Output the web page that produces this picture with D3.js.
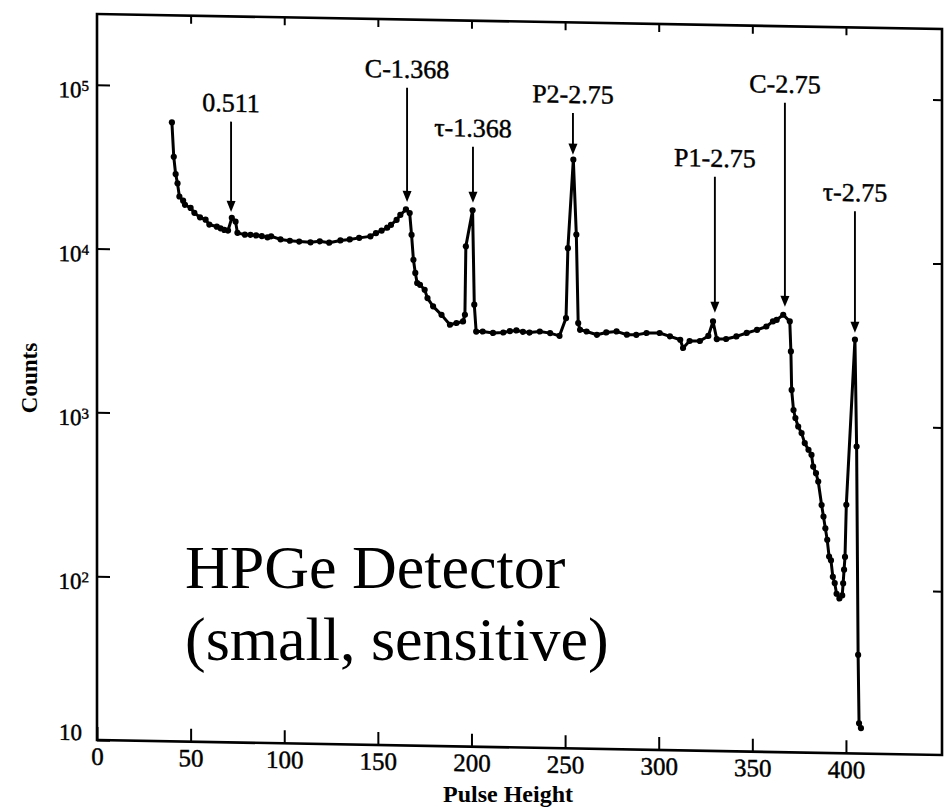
<!DOCTYPE html>
<html>
<head>
<meta charset="utf-8">
<script src="https://cdn.jsdelivr.net/npm/d3@7"></script>
<style>
  html, body { margin: 0; padding: 0; background: #fff; }
  svg { display: block; }
</style>
</head>
<body>
<div id="chart"></div>
<script>
// spectrum points
const pulseHeights = [
  40, 41, 42, 43, 44, 46, 47, 50, 52, 55,
  58, 60, 64, 66, 68, 70, 72, 74, 75, 79,
  82, 85, 88, 91, 93, 98, 103, 108, 114, 119,
  124, 130, 135, 140, 146, 149, 152, 155, 157, 160,
  162, 165, 167, 168, 169, 170, 171, 172.5, 175, 176.5,
  179.5, 184, 188.5, 192, 195.5, 196.5, 197, 200.6, 201.5, 202.5,
  206, 211.5, 217, 220.5, 224, 227.5, 231, 236.5, 242, 247,
  250.5, 251.5, 254.4, 256, 257, 258, 261.5, 267, 272, 277.5,
  283, 288, 293.5, 300.5, 306, 311.5, 313, 316.5, 322, 326.5,
  329, 331, 336, 341.5, 347, 352.5, 357.5, 361, 363, 366.5,
  370, 370.6, 371, 372, 373, 374.5, 376.3, 378, 380, 381.6,
  382.5, 384, 385.2, 387, 388, 389, 390, 391, 392, 393,
  394, 395, 396.5, 398, 398.5, 399, 399.5, 400.2, 404.8, 405.7,
  406.5, 407, 408,
];
const counts = [
  60000, 37000, 29000, 25500, 21200, 20000, 18900, 18100, 16900, 15900,
  15400, 14400, 14000, 13700, 13400, 13300, 15900, 15100, 12900, 12600,
  12600, 12500, 12400, 12200, 12400, 11900, 11700, 11600, 11500, 11700,
  11500, 11900, 12100, 12400, 12700, 13300, 13800, 14400, 15000, 16100,
  17300, 18700, 17800, 13100, 9240, 7680, 6670, 6510, 6080, 5410,
  4820, 4290, 3740, 3840, 3930, 4320, 11300, 18800, 4990, 3420,
  3430, 3370, 3400, 3470, 3510, 3450, 3420, 3480, 3410, 3290,
  4230, 11300, 39300, 13700, 3950, 3600, 3520, 3370, 3490, 3550,
  3400, 3400, 3500, 3510, 3360, 3210, 2860, 3160, 3170, 3410,
  4190, 3270, 3280, 3410, 3590, 3760, 3950, 4250, 4350, 4680,
  4270, 2800, 1630, 1230, 1100, 977, 890, 774, 706, 658,
  558, 509, 453, 326, 277, 235, 200, 158, 150, 119,
  109, 94, 88, 92, 109, 132, 158, 329, 3360, 748,
  40, 15.3, 14.3,
];

// peak annotations (pulse height of the arrow, counts at arrow tip and at label)
const peakLabels = ['0.511', 'C-1.368', 'τ-1.368', 'P2-2.75', 'P1-2.75', 'C-2.75', 'τ-2.75'];
const peakPositions = [71.6, 165.6, 200.8, 254.2, 330, 367.4, 404.8];
const arrowTips = [17300, 20800, 20900, 42100, 4730, 5230, 3700];
const labelLevels = [70800, 119000, 52900, 87100, 36800, 106000, 23500];

const xTicks = [0, 50, 100, 150, 200, 250, 300, 350, 400];
const yTicks = [10, 1e2, 1e3, 1e4, 1e5];

const overlayLines = ['HPGe Detector', '(small, sensitive)'];

const SERIF = '"Times New Roman", "Liberation Serif", serif';

class SpectrumChart {
  constructor(selector) {
    this.selector = selector;

    this.points = null;
    this.peaks = null;

    this.svg = null;
    this.plot = null;
    this.width = 945;
    this.height = 808;
    this.config = {
      left: 97,
      plotWidth: 845,
      top: 14,
      bottom: 740,
      skew: 1.02, // the scan is slightly sheared
      ink: 0.45, // scan makes the print look heavier
    };

    this.scales = { x: null, y: null };
  }

  data(xs, ys) {
    this.points = xs.map((x, i) => ({ x, count: ys[i] }));
    this.peaks = peakLabels.map((label, i) => ({
      label,
      x: peakPositions[i],
      tip: arrowTips[i],
      level: labelLevels[i],
    }));
    return this;
  }

  draw() {
    return this
      .setUpSVG()
      .setUpScales()
      .drawAxes()
      .drawSeries()
      .drawPeaks()
      .drawTitles();
  }

  setUpSVG() {
    const { left, skew } = this.config;

    this.svg = d3.select(this.selector)
      .append('svg')
      .attr('width', this.width)
      .attr('height', this.height)
      .attr('font-family', SERIF);

    this.svg.append('rect')
      .attr('width', this.width)
      .attr('height', this.height)
      .attr('fill', '#fff');

    this.plot = this.svg.append('g')
      .attr('transform', `translate(${left},0) skewY(${skew})`);

    return this;
  }

  setUpScales() {
    const { plotWidth, top, bottom } = this.config;

    this.scales.x = d3.scaleLinear()
      .domain([0, 451.3])
      .range([0, plotWidth]);

    this.scales.y = d3.scaleLog()
      .domain([10, 2.7e5])
      .range([bottom, top]);

    return this;
  }

  drawAxes() {
    const { x, y } = this.scales;
    const { plotWidth, top, bottom, ink } = this.config;

    const clean = (g) => g
      .attr('font-family', SERIF)
      .call((a) => a.select('.domain').remove())
      .call((a) => a.selectAll('line').attr('stroke-width', 2))
      .call((a) => a.selectAll('text').attr('stroke', '#000').attr('stroke-width', ink));

    // bottom
    this.plot.append('g')
      .attr('transform', `translate(0,${bottom})`)
      .call(d3.axisBottom(x).tickValues(xTicks).tickSizeInner(-13).tickSizeOuter(0).tickPadding(7))
      .call(clean)
      .attr('font-size', 25);

    // top
    this.plot.append('g')
      .attr('transform', `translate(0,${top})`)
      .call(d3.axisTop(x).tickValues(xTicks.slice(1)).tickSizeInner(-8).tickSizeOuter(0).tickFormat(''))
      .call(clean);

    // left, labels as powers of ten
    this.plot.append('g')
      .call(d3.axisLeft(y).tickValues(yTicks).tickSizeInner(-13).tickSizeOuter(0).tickPadding(8))
      .call(clean)
      .attr('font-size', 23)
      .call((g) => g.selectAll('.tick text')
        .text(null)
        .attr('dy', (d) => (d === 10 ? '0em' : '0.55em'))
        .attr('x', (d) => (d === 10 ? -15 : -8))
        .call((t) => t.append('tspan').text('10'))
        .call((t) => t.filter((d) => d > 10)
          .append('tspan')
          .attr('dy', '-0.45em')
          .attr('font-size', 15)
          .text((d) => Math.round(Math.log10(d)))));

    // right
    this.plot.append('g')
      .attr('transform', `translate(${plotWidth},0)`)
      .call(d3.axisRight(y).tickValues(yTicks.slice(1)).tickSizeInner(-9).tickSizeOuter(0).tickFormat(''))
      .call(clean);

    // frame
    this.plot.append('path')
      .attr('fill', 'none')
      .attr('stroke', '#000')
      .attr('stroke-width', 2.6)
      .attr('d', `M0,${top}H${plotWidth}V${bottom}H0Z`);

    return this;
  }

  drawSeries() {
    const { x, y } = this.scales;

    const line = d3.line()
      .x((d) => x(d.x))
      .y((d) => y(d.count));

    this.plot.append('path')
      .datum(this.points)
      .attr('fill', 'none')
      .attr('stroke', '#000')
      .attr('stroke-width', 3)
      .attr('stroke-linejoin', 'round')
      .attr('d', line);

    this.plot.append('g')
      .selectAll('circle')
      .data(this.points)
      .join('circle')
      .attr('cx', (d) => x(d.x))
      .attr('cy', (d) => y(d.count))
      .attr('r', 3.1)
      .attr('fill', '#000');

    return this;
  }

  drawPeaks() {
    const { x, y } = this.scales;
    const { ink } = this.config;

    const peak = this.plot.append('g')
      .selectAll('g')
      .data(this.peaks)
      .join('g');

    peak.append('text')
      .attr('x', (d) => x(d.x))
      .attr('y', (d) => y(d.level))
      .attr('text-anchor', 'middle')
      .attr('font-size', 26)
      .attr('stroke', '#000')
      .attr('stroke-width', ink)
      .text((d) => d.label);

    peak.append('line')
      .attr('x1', (d) => x(d.x))
      .attr('x2', (d) => x(d.x))
      .attr('y1', (d) => y(d.level) + 10)
      .attr('y2', (d) => y(d.tip) - 9)
      .attr('stroke', '#000')
      .attr('stroke-width', 1.9);

    peak.append('path')
      .attr('fill', '#000')
      .attr('d', (d) => {
        const px = x(d.x);
        const py = y(d.tip);
        return `M${px - 4.5},${py - 11}L${px + 4.5},${py - 11}L${px},${py}Z`;
      });

    return this;
  }

  drawTitles() {
    this.svg.append('text')
      .attr('transform', 'translate(29,378) rotate(-90)')
      .attr('text-anchor', 'middle')
      .attr('dy', '0.35em')
      .attr('font-size', 23)
      .attr('font-weight', 'bold')
      .text('Counts');

    this.svg.append('text')
      .attr('x', 508)
      .attr('y', 802)
      .attr('text-anchor', 'middle')
      .attr('font-size', 24)
      .attr('font-weight', 'bold')
      .text('Pulse Height');

    this.svg.append('g')
      .selectAll('text')
      .data(overlayLines)
      .join('text')
      .attr('x', 185)
      .attr('y', (_, i) => 588 + i * 72)
      .attr('font-size', 62)
      .text((d) => d);

    return this;
  }
}

new SpectrumChart('#chart')
  .data(pulseHeights, counts)
  .draw();
</script>
</body>
</html>
